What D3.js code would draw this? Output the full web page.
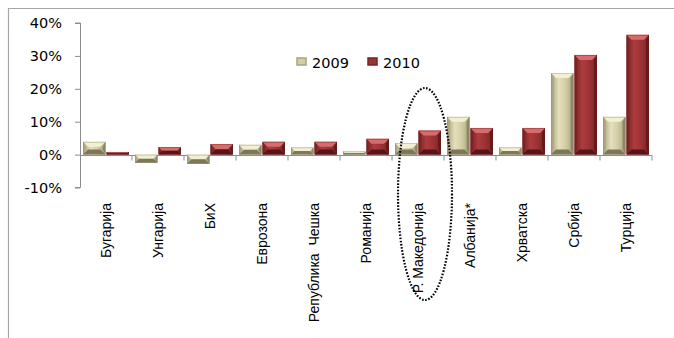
<!DOCTYPE html>
<html>
<head>
<meta charset="utf-8">
<script src="https://cdn.jsdelivr.net/npm/d3@7"></script>
<style>
  body { margin: 0; background: #fff; }
  svg { display: block; }
</style>
</head>
<body>
<script>
var categories = ['Бугарија', 'Унгарија', 'БиХ', 'Еврозона', 'Република  Чешка', 'Романија',
                  'Р. Македонија', 'Албанија*', 'Хрватска', 'Србија', 'Турција'];
var years = ['2009', '2010'];
var values2009 = [0.039, -0.025, -0.028, 0.030, 0.022, 0.010, 0.035, 0.115, 0.022, 0.248, 0.115];
var values2010 = [0.008, 0.023, 0.032, 0.039, 0.039, 0.048, 0.073, 0.081, 0.081, 0.303, 0.364];
var yTicks = [-0.1, 0, 0.1, 0.2, 0.3, 0.4];
var highlighted = 'Р. Македонија';

var width = 674, height = 338;

var svg = d3.select('body').append('svg')
    .attr('width', width)
    .attr('height', height);

var colors = {
  '2009': { face: '#d3cda6', light: '#e4dfbd', top: '#f3efd3', side: '#a9a37e', bottom: '#7d7759', edge: '#8f8966' },
  '2010': { face: '#9c3234', light: '#ad3c3e', top: '#d66c6c', side: '#7b2325', bottom: '#581517', edge: '#6a1d1f' }
};

// horizontal shading for the bar faces
var defs = svg.append('defs');
years.forEach(function(yr) {
  var grad = defs.append('linearGradient').attr('id', 'face' + yr)
      .attr('x1', 0).attr('x2', 1).attr('y1', 0).attr('y2', 0);
  grad.append('stop').attr('offset', '0%').attr('stop-color', colors[yr].side);
  grad.append('stop').attr('offset', '35%').attr('stop-color', colors[yr].light);
  grad.append('stop').attr('offset', '65%').attr('stop-color', colors[yr].face);
  grad.append('stop').attr('offset', '100%').attr('stop-color', colors[yr].side);
});

// outer frame (only top and left edges show in the picture)
svg.append('path')
    .attr('d', 'M8.5,' + height + 'V8.5H' + width)
    .attr('fill', 'none')
    .attr('stroke', '#a6a6a6')
    .attr('stroke-width', 1.2);

var x0 = d3.scaleBand().domain(categories).range([80, 652]);
var x1 = d3.scaleBand().domain(years).range([3, x0.bandwidth() - 3]).paddingInner(0.04);
var y = d3.scaleLinear().domain([-0.1, 0.4]).range([187.5, 23]);

// y axis
var yAxis = svg.append('g')
    .attr('transform', 'translate(80,0)')
    .call(d3.axisLeft(y).tickValues(yTicks).tickSize(5).tickPadding(13)
      .tickFormat(function(d) { return Math.round(d * 100) + '%'; }));
yAxis.selectAll('path, line').attr('stroke', '#8c8c8c');
yAxis.select('.domain').attr('d', 'M-5,' + y(-0.1) + 'H0.5V' + y(0.4) + 'H-5');
yAxis.selectAll('text')
    .attr('font-family', 'DejaVu Sans, Verdana, sans-serif')
    .attr('font-size', 14.5)
    .attr('fill', '#000');

// category axis along zero
var zeroY = Math.round(y(0)) + 0.5;
svg.append('line')
    .attr('x1', 80).attr('x2', 652)
    .attr('y1', zeroY).attr('y2', zeroY)
    .attr('stroke', '#8c8c8c');
svg.append('g').selectAll('line')
    .data(categories.slice(1).concat(['end']))
    .enter().append('line')
    .attr('x1', function(d) { return d === 'end' ? 652 : x0(d); })
    .attr('x2', function(d) { return d === 'end' ? 652 : x0(d); })
    .attr('y1', zeroY).attr('y2', zeroY + 5)
    .attr('stroke', '#8c8c8c');

// bars with a bevel
var rows = [];
categories.forEach(function(c, i) {
  rows.push({ cat: c, year: '2009', v: values2009[i] });
  rows.push({ cat: c, year: '2010', v: values2010[i] });
});

svg.append('g').selectAll('g')
    .data(rows)
    .enter().append('g')
    .each(function(d) {
      var g = d3.select(this);
      var c = colors[d.year];
      var xl = x0(d.cat) + x1(d.year);
      var w = x1.bandwidth();
      var yt = Math.min(y(d.v), y(0));
      var yb = Math.max(y(d.v), y(0));
      var h = yb - yt;
      var b = Math.min(5, h / 2, w / 2);
      g.append('rect').attr('x', xl).attr('y', yt).attr('width', w).attr('height', h)
        .attr('fill', 'url(#face' + d.year + ')');
      g.append('polygon').attr('fill', c.top)
        .attr('points', [[xl, yt], [xl + w, yt], [xl + w - b, yt + b], [xl + b, yt + b]].join(' '));
      g.append('polygon').attr('fill', c.bottom)
        .attr('points', [[xl, yb], [xl + w, yb], [xl + w - b, yb - b], [xl + b, yb - b]].join(' '));
      g.append('polygon').attr('fill', c.side).attr('opacity', 0.7)
        .attr('points', [[xl, yt], [xl + b * 0.6, yt + b], [xl + b * 0.6, yb - b], [xl, yb]].join(' '));
      g.append('polygon').attr('fill', c.bottom).attr('opacity', 0.7)
        .attr('points', [[xl + w, yt], [xl + w - b * 0.6, yt + b], [xl + w - b * 0.6, yb - b], [xl + w, yb]].join(' '));
      g.append('rect').attr('x', xl + 0.5).attr('y', yt + 0.5).attr('width', w - 1).attr('height', Math.max(0, h - 1))
        .attr('fill', 'none').attr('stroke', c.edge).attr('stroke-width', 0.6).attr('opacity', 0.6);
    });

// category labels
svg.append('g').selectAll('text')
    .data(categories)
    .enter().append('text')
    .attr('transform', function(d) {
      return 'translate(' + (x0(d) + x0.bandwidth() / 2 + 5) + ',203) rotate(-90)';
    })
    .attr('text-anchor', 'end')
    .attr('font-family', 'Liberation Sans, Arial, sans-serif')
    .attr('font-size', 14)
    .attr('fill', '#000')
    .style('white-space', 'pre')
    .text(function(d) { return d; });

// dotted ellipse around the highlighted country
svg.append('ellipse')
    .attr('cx', x0(highlighted) + x0.bandwidth() / 2 + 7)
    .attr('cy', 194)
    .attr('rx', 27)
    .attr('ry', 106)
    .attr('fill', 'none')
    .attr('stroke', '#000')
    .attr('stroke-width', 2.2)
    .attr('stroke-dasharray', '1.6,1.6');

// legend
var legend = svg.append('g').selectAll('g')
    .data(years)
    .enter().append('g')
    .attr('transform', function(d, i) { return 'translate(' + (297 + i * 71) + ',58)'; });
legend.append('rect')
    .attr('width', 9).attr('height', 7)
    .attr('fill', function(d) { return colors[d].face; })
    .attr('stroke', function(d) { return colors[d].side; })
    .attr('stroke-width', 1.5);
legend.append('text')
    .attr('x', 15).attr('y', 10)
    .attr('font-family', 'DejaVu Sans, Verdana, sans-serif')
    .attr('font-size', 14.5)
    .attr('fill', '#000')
    .text(function(d) { return d; });
</script>
</body>
</html>
